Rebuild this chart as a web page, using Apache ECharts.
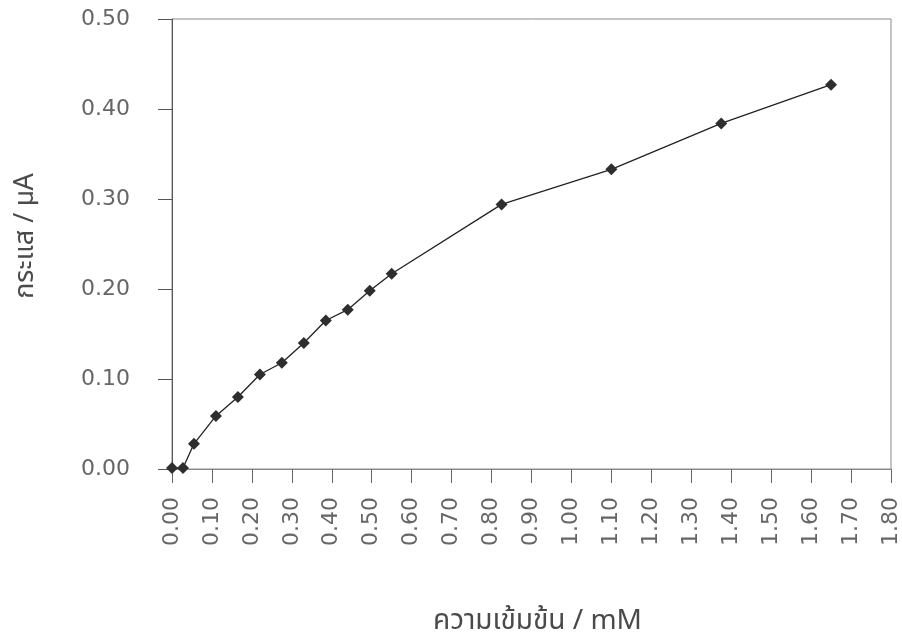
<!DOCTYPE html>
<html>
<head>
<meta charset="utf-8">
<script src="https://cdn.jsdelivr.net/npm/echarts@6/dist/echarts.min.js"></script>
<style>
html,body{margin:0;padding:0;background:#fff;}
#chart{width:902px;height:642px;}
</style>
</head>
<body>
<div id="chart"></div>
<script>
// Concentration (mM)
var concentration = [0, 0.0275, 0.055, 0.11, 0.165, 0.22, 0.275, 0.33, 0.385, 0.44, 0.495, 0.55, 0.825, 1.10, 1.375, 1.65];
// Current (µA)
var current = [0.001, 0.001, 0.028, 0.059, 0.080, 0.105, 0.118, 0.140, 0.165, 0.177, 0.198, 0.217, 0.294, 0.333, 0.384, 0.427];
var xTitle = 'ความเข้มข้น / mM';
var yTitle = 'กระแส / µA';

var points = concentration.map(function (c, i) { return [c, current[i]]; });
var labelFont = '"DejaVu Sans", "Liberation Sans", sans-serif';
var thaiFont = '"Noto Sans Thai", "Noto Sans Thai Looped", "Loma", "Garuda", "Noto Sans", sans-serif';

var chart = echarts.init(document.getElementById('chart'), null, {renderer: 'canvas'});
chart.setOption({
  backgroundColor: '#ffffff',
  animation: false,
  grid: {left: 172, top: 19, right: 10, bottom: 173, show: true, borderColor: '#8a8a8a', borderWidth: 1, containLabel: false},
  xAxis: {
    type: 'value', min: 0, max: 1.8, interval: 0.1,
    name: xTitle, nameLocation: 'middle', nameGap: 140,
    nameTextStyle: {fontFamily: thaiFont, fontSize: 28, color: '#4a4a4a', padding: [0, 0, 0, 12]},
    axisLine: {show: true, lineStyle: {color: '#8a8a8a', width: 1}},
    axisTick: {show: true, inside: false, length: 14, lineStyle: {color: '#666', width: 1}},
    axisLabel: {rotate: 90, margin: 28, fontFamily: labelFont, fontSize: 22, color: '#666',
      formatter: function (v) { return v.toFixed(2); }},
    splitLine: {show: false}
  },
  yAxis: {
    type: 'value', min: 0, max: 0.5, interval: 0.1,
    name: yTitle, nameLocation: 'middle', nameGap: 131,
    nameTextStyle: {fontFamily: thaiFont, fontSize: 27, color: '#4a4a4a', padding: [0, 0, 0, 16]},
    axisLine: {show: true, lineStyle: {color: '#555', width: 1}},
    axisTick: {show: true, inside: false, length: 14, lineStyle: {color: '#555', width: 1}},
    axisLabel: {margin: 42, fontFamily: labelFont, fontSize: 22, color: '#666',
      formatter: function (v) { return v.toFixed(2); }},
    splitLine: {show: false}
  },
  series: [{
    type: 'line',
    data: points,
    symbol: 'diamond',
    symbolSize: 12,
    itemStyle: {color: '#2e2e2e'},
    lineStyle: {color: '#222', width: 1.3},
    z: 5
  }]
});
</script>
</body>
</html>
